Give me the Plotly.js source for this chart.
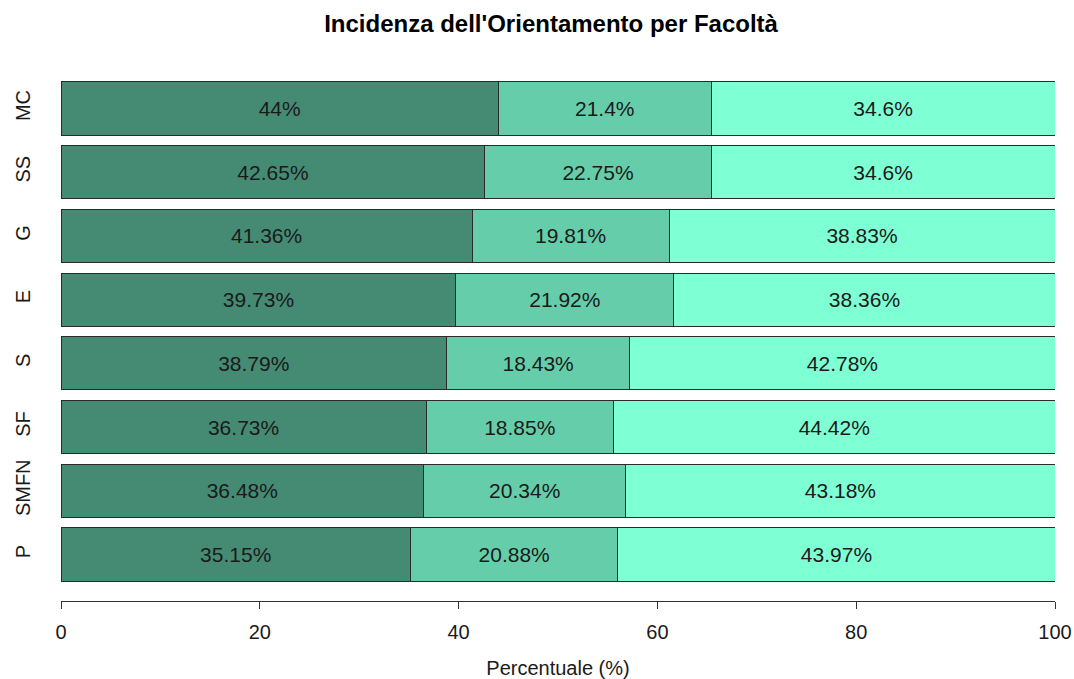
<!DOCTYPE html>
<html>
<head>
<meta charset="utf-8">
<script src="https://cdn.plot.ly/plotly-3.0.1.min.js"></script>
<style>html,body{margin:0;padding:0;background:#fff;}#chart{width:1074px;height:679px;}</style>
</head>
<body>
<div id="chart"></div>
<script>
// Categories listed bottom to top
const categories = ["P", "SMFN", "SF", "S", "E", "G", "SS", "MC"];
const seriesA = [35.15, 36.48, 36.73, 38.79, 39.73, 41.36, 42.65, 44];
const seriesB = [20.88, 20.34, 18.85, 18.43, 21.92, 19.81, 22.75, 21.4];
const seriesC = [43.97, 43.18, 44.42, 42.78, 38.36, 38.83, 34.6, 34.6];
const xTicks = [0, 20, 40, 60, 80, 100];

const colors = ["#458B74", "#66CDAA", "#7FFFD4"];
const FONT = "Liberation Sans, Arial, Helvetica, sans-serif";

function mk(vals, color) {
  return {
    type: "bar",
    orientation: "h",
    y: categories,
    x: vals,
    text: vals.map(v => v + "%"),
    textposition: "inside",
    insidetextanchor: "middle",
    constraintext: "none",
    textfont: {family: FONT, size: 21, color: "#1a1a1a"},
    marker: {color: color, line: {color: "#2b2b2b", width: 1}},
    hoverinfo: "x+y",
    showlegend: false
  };
}

const data = [mk(seriesA, colors[0]), mk(seriesB, colors[1]), mk(seriesC, colors[2])];

const layout = {
  width: 1074,
  height: 679,
  paper_bgcolor: "#ffffff",
  plot_bgcolor: "#ffffff",
  barmode: "stack",
  bargap: 1 - 1 / 1.2,
  margin: {l: 61, r: 19, t: 62, b: 78, pad: 0},
  font: {family: FONT, color: "#1a1a1a"},
  title: {
    text: "<b>Incidenza dell'Orientamento per Facoltà</b>",
    font: {family: FONT, size: 24, color: "#000"},
    xref: "paper", x: 0.493, xanchor: "center",
    y: 1 - 24 / 679, yref: "container", yanchor: "middle"
  },
  xaxis: {
    range: [0, 100],
    tickvals: xTicks,
    ticktext: xTicks.map(String),
    showgrid: false,
    zeroline: false,
    showline: true,
    linecolor: "#333",
    linewidth: 1,
    ticks: "outside",
    ticklen: 7,
    tickcolor: "#333",
    tickfont: {family: FONT, size: 20, color: "#1a1a1a"},
    ticklabelstandoff: 6,
    title: {text: "Percentuale (%)", font: {family: FONT, size: 20, color: "#1a1a1a"}, standoff: 18},
    fixedrange: true
  },
  yaxis: {
    type: "category",
    range: [-0.73, 7.73],
    showgrid: false,
    zeroline: false,
    showline: false,
    ticks: "",
    tickangle: -90,
    tickfont: {family: FONT, size: 20, color: "#1a1a1a"},
    ticklabelstandoff: 26,
    fixedrange: true
  }
};

Plotly.newPlot("chart", data, layout, {displayModeBar: false, staticPlot: true});
</script>
</body>
</html>
